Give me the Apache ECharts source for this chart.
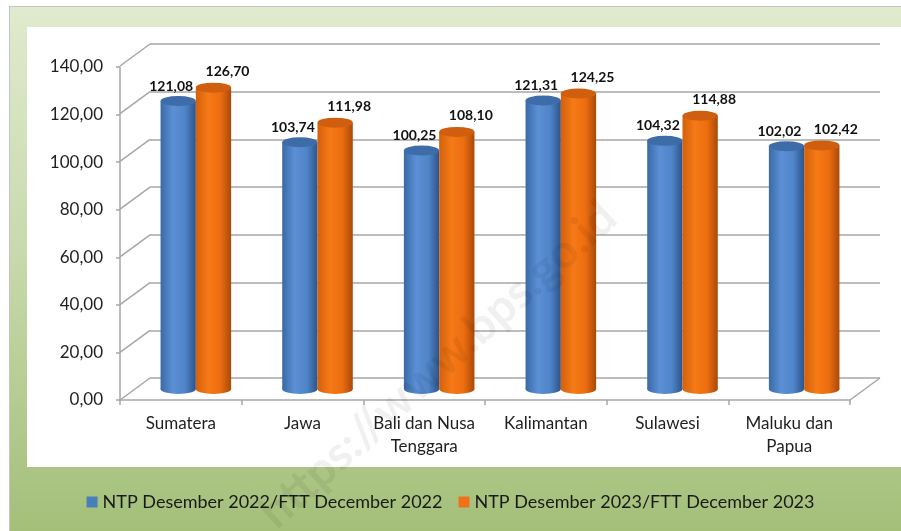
<!DOCTYPE html>
<html><head><meta charset="utf-8">
<script src="https://cdn.jsdelivr.net/npm/echarts@6/dist/echarts.min.js"></script>
<style>
html,body{margin:0;padding:0;background:#fff;width:901px;height:531px;overflow:hidden;position:relative}
#frame{position:absolute;left:9px;top:6px;width:900px;height:530px;background:linear-gradient(to bottom,#e0eace 0%,#c9daae 45%,#a3bf78 100%);border-top:1px solid #c4c4c4;border-left:1px solid #c4c4c4;box-sizing:border-box}
#white{position:absolute;left:27px;top:27px;width:874px;height:440px;background:#fff}
#c{position:absolute;left:0;top:0;width:901px;height:531px}
</style>
</head><body><div id="frame"></div><div id="white"></div><div id="c"></div>
<script>
// ---- data ----
const categories = ['Sumatera', 'Jawa', 'Bali dan Nusa\nTenggara', 'Kalimantan', 'Sulawesi', 'Maluku dan\nPapua'];
const seriesNames = ['NTP Desember 2022/FTT December 2022', 'NTP Desember 2023/FTT December 2023'];
const ntp2022 = [121.08, 103.74, 100.25, 121.31, 104.32, 102.02];
const ntp2023 = [126.70, 111.98, 108.10, 124.25, 114.88, 102.42];
const yTicks = [0, 20, 40, 60, 80, 100, 120, 140];
const yMin = 0, yMax = 140, yStep = 20;

const fmt = v => v.toFixed(2).replace('.', ',');
const FONT = 'Lato';
const DEPTH_X = 30, DEPTH_Y = 22;

const palettes = [
  { solid: '#4a7ebb', stops: ['#3a69a6', '#5b90d6', '#4f84c8', '#2c5489'], top: '#3d6ca8', dx: -7, dy: 10 },
  { solid: '#f07117', stops: ['#d3600c', '#f67a16', '#ec6d0f', '#a9490a'], top: '#cf5e0e', dx: 14, dy: 11 }
];

function cylinder(si) {
  return function (params, api) {
    const idx = api.value(0), val = api.value(1);
    const top = api.coord([idx, val]);
    const bot = api.coord([idx, 0]);
    const band = api.size([1, 0])[0];
    const w = band * 0.29;
    const cx = top[0] + (si === 0 ? -w / 2 : w / 2);
    const rx = w / 2, ry = 5;
    const p = palettes[si];
    const grad = new echarts.graphic.LinearGradient(0, 0, 1, 0, [
      { offset: 0, color: p.stops[0] }, { offset: 0.35, color: p.stops[1] },
      { offset: 0.7, color: p.stops[2] }, { offset: 1, color: p.stops[3] }
    ]);
    return {
      type: 'group',
      children: [
        { type: 'circle', x: cx, y: bot[1], scaleY: ry / rx, shape: { cx: 0, cy: 0, r: rx }, style: { fill: grad } },
        { type: 'rect', shape: { x: cx - rx, y: top[1], width: w, height: bot[1] - top[1] }, style: { fill: grad } },
        { type: 'circle', x: cx, y: top[1], scaleY: ry / rx, shape: { cx: 0, cy: 0, r: rx }, style: { fill: p.top } },
        { type: 'text', x: cx + p.dx, y: top[1] - ry - p.dy,
          style: { text: fmt(val), font: 'bold 14px ' + FONT, fill: '#111', align: 'center', verticalAlign: 'middle' } }
      ]
    };
  };
}

const option = {
  animation: false,
  color: [palettes[0].solid, palettes[1].solid],
  grid: [
    { left: 150, top: 44, width: 730, height: 334, outerBoundsMode: 'none' },
    { left: 120, top: 67, width: 730, height: 333, outerBoundsMode: 'none' },
    { left: 135, top: 56, width: 730, height: 333, outerBoundsMode: 'none' }
  ],
  xAxis: [
    { gridIndex: 0, type: 'category', data: categories, show: false },
    { gridIndex: 1, type: 'category', data: categories,
      axisLine: { lineStyle: { color: '#a6a6a6', width: 1.5 } },
      axisTick: { show: true, length: 5, lineStyle: { color: '#a6a6a6', width: 1.5 } },
      axisLabel: { interval: 0, fontFamily: FONT, fontSize: 17, color: '#1f1f1f', lineHeight: 23, margin: 12 } },
    { gridIndex: 2, type: 'category', data: categories, show: false }
  ],
  yAxis: [
    { gridIndex: 0, type: 'value', min: yMin, max: yMax, interval: yStep,
      axisLine: { show: false }, axisTick: { show: false }, axisLabel: { show: false },
      splitLine: { show: true, lineStyle: { color: '#a6a6a6', width: 1.5 } } },
    { gridIndex: 1, type: 'value', min: yMin, max: yMax, interval: yStep,
      axisLine: { show: true, lineStyle: { color: '#a6a6a6', width: 1.5 } },
      axisTick: { show: true, length: 4, lineStyle: { color: '#a6a6a6', width: 1.5 } },
      axisLabel: { formatter: v => fmt(v), fontFamily: FONT, fontSize: 17, color: '#1f1f1f', margin: 17 },
      splitLine: { show: false } },
    { gridIndex: 2, type: 'value', min: yMin, max: yMax, interval: yStep, show: false, splitLine: { show: false } }
  ],
  legend: {
    data: seriesNames, bottom: 15, left: 'center', icon: 'rect', itemWidth: 11, itemHeight: 11, itemGap: 16,
    textStyle: { fontFamily: FONT, fontSize: 18, color: '#1a1a1a' }
  },
  graphic: [
    { type: 'text', x: 438, y: 365, rotation: 42 * Math.PI / 180, z: 100, silent: true,
      style: { text: 'https://www.bps.go.id', font: 'bold 47px ' + FONT, fill: 'rgba(0,0,0,0.06)', align: 'center', verticalAlign: 'middle' } }
  ],
  series: [
    { type: 'custom', name: '_depth', xAxisIndex: 0, yAxisIndex: 0, silent: true, z: 1,
      data: yTicks.map(v => [0, v]),
      renderItem: function (params, api) {
        const v = api.value(1);
        const y = api.coord([0, v])[1];
        const cs = params.coordSys;
        const children = [{ type: 'line', shape: { x1: cs.x, y1: y, x2: cs.x - DEPTH_X, y2: y + DEPTH_Y },
          style: { stroke: '#a6a6a6', lineWidth: 1.5 } }];
        if (v === yMin) {
          children.push({ type: 'line', shape: { x1: cs.x + cs.width, y1: y, x2: cs.x + cs.width - DEPTH_X, y2: y + DEPTH_Y },
            style: { stroke: '#a6a6a6', lineWidth: 1.5 } });
        }
        return { type: 'group', children };
      } },
    { type: 'custom', name: seriesNames[0], xAxisIndex: 2, yAxisIndex: 2, z: 3,
      itemStyle: { color: palettes[0].solid },
      data: ntp2022.map((v, i) => [i, v]), renderItem: cylinder(0) },
    { type: 'custom', name: seriesNames[1], xAxisIndex: 2, yAxisIndex: 2, z: 3,
      itemStyle: { color: palettes[1].solid },
      data: ntp2023.map((v, i) => [i, v]), renderItem: cylinder(1) }
  ]
};
const chart = echarts.init(document.getElementById('c'));
chart.setOption(option);
</script>
</body></html>
